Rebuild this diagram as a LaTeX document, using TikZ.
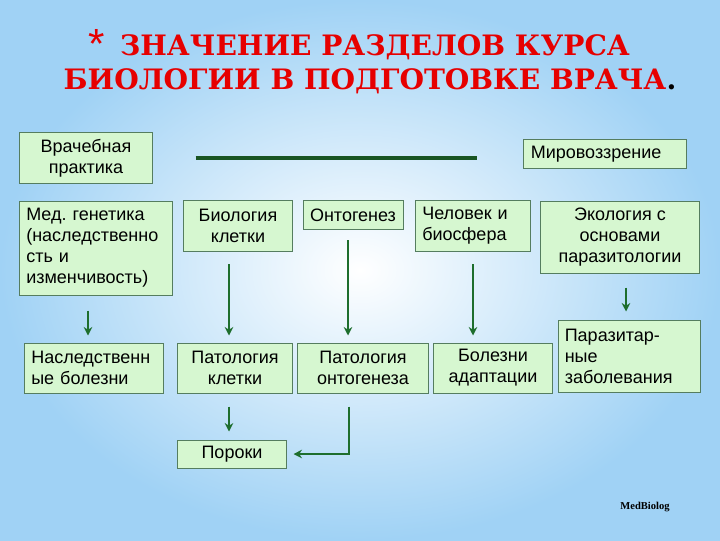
\documentclass[tikz,border=0pt]{standalone}
\usepackage{fontspec}
\setmainfont{Liberation Sans}
\newfontfamily\titlefont{DejaVu Serif}
\newfontfamily\signfont{Liberation Serif}
\usetikzlibrary{arrows.meta}
\definecolor{boxfill}{RGB}{214,247,208}
\definecolor{boxline}{RGB}{85,125,95}
\definecolor{arrowgreen}{RGB}{30,110,45}
\definecolor{linegreen}{RGB}{25,85,35}
\definecolor{skyblue}{RGB}{160,210,245}
\definecolor{titlered}{RGB}{230,0,0}

\begin{document}
\begin{tikzpicture}[
    x=0.025cm, y=-0.025cm,
    block/.style={rectangle, draw=boxline, line width=0.7pt, fill=boxfill, inner sep=0pt, align=center, font=\fontsize{12.8}{14.9}\selectfont},
    leftblock/.style={block, align=left, inner xsep=0.17cm},
    arrow/.style={-{Stealth[length=6pt,width=6pt]}, line width=1.9pt, arrowgreen},
    link/.style={line width=2.2pt, linegreen}
]
\useasboundingbox (0,0) rectangle (720,540);
\shade[inner color=white, outer color=skyblue] (0,0) rectangle (720,540);

% title
\node[titlered, align=center, font=\titlefont\bfseries\fontsize{20}{24}\selectfont] (title) at (370,64) {\hspace*{0.25cm}ЗНАЧЕНИЕ РАЗДЕЛОВ КУРСА\\БИОЛОГИИ В ПОДГОТОВКЕ ВРАЧА{\color{black}.}};
\node[titlered, font=\fontsize{30}{30}\selectfont] (star) at (97,44) {*};

% top row
\node[block, minimum width=3.3cm, minimum height=1.275cm] (prak) at (86,158) {Врачебная\\практика};
\node[leftblock, text width=3.71cm, minimum height=0.725cm] (mir) at (605,154) {Мировоззрение};

% sections
\node[leftblock, text width=3.485cm, minimum height=2.35cm] (gen) at (96,248) {Мед.\ генетика\\(наследственно\\сть и\\изменчивость)};
\node[block, minimum width=2.7cm, minimum height=1.275cm] (biok) at (238,226) {Биология\\клетки};
\node[block, minimum width=2.5cm, minimum height=0.725cm] (onto) at (353,215) {Онтогенез};
\node[leftblock, text width=2.535cm, minimum height=1.275cm] (chel) at (473,226) {Человек и\\биосфера};
\node[block, minimum width=3.975cm, minimum height=1.8cm] (eko) at (620,237) {Экология с\\основами\\паразитологии};

% pathology
\node[leftblock, text width=3.135cm, minimum height=1.25cm] (nasl) at (94,368) {Наследственн\\ые болезни};
\node[block, minimum width=2.85cm, minimum height=1.25cm] (patk) at (235,368) {Патология\\клетки};
\node[block, minimum width=3.25cm, minimum height=1.25cm] (pato) at (363,368) {Патология\\онтогенеза};
\node[block, minimum width=2.975cm, minimum height=1.25cm] (bol) at (493,368) {Болезни\\адаптации};
\node[leftblock, text width=3.21cm, minimum height=1.8cm] (paraz) at (629,356) {Паразитар-\\ные\\заболевания};
\node[block, minimum width=2.7cm, minimum height=0.7cm] (por) at (232,454) {Пороки};

\node[font=\signfont\bfseries\fontsize{7.5}{8}\selectfont] (sign) at (645,507) {MedBiolog};

% connectors
\coordinate (linestart) at ([xshift=1.075cm]prak.east);
\coordinate (lineend) at ([xshift=-1.15cm]mir.west);
\draw[link] (linestart) -- (lineend |- linestart);

\draw[arrow, shorten <=0.375cm, shorten >=0.175cm] (gen.south -| 88,0) -- (nasl.north -| 88,0);
\draw[arrow, shorten <=0.3cm, shorten >=0.175cm] (biok.south -| 229,0) -- (patk.north -| 229,0);
\draw[arrow, shorten <=0.25cm, shorten >=0.175cm] (onto.south -| 348,0) -- (pato.north -| 348,0);
\draw[arrow, shorten <=0.3cm, shorten >=0.175cm] (chel.south -| 473,0) -- (bol.north -| 473,0);
\draw[arrow, shorten <=0.35cm, shorten >=0.2cm] (eko.south -| 626,0) -- (paraz.north -| 626,0);
\draw[arrow, shorten <=0.325cm, shorten >=0.2cm] (patk.south -| 229,0) -- (por.north -| 229,0);
\draw[arrow, shorten <=0.325cm, shorten >=0.175cm] (pato.south -| 349,0) |- (por.east);
\end{tikzpicture}
\end{document}
